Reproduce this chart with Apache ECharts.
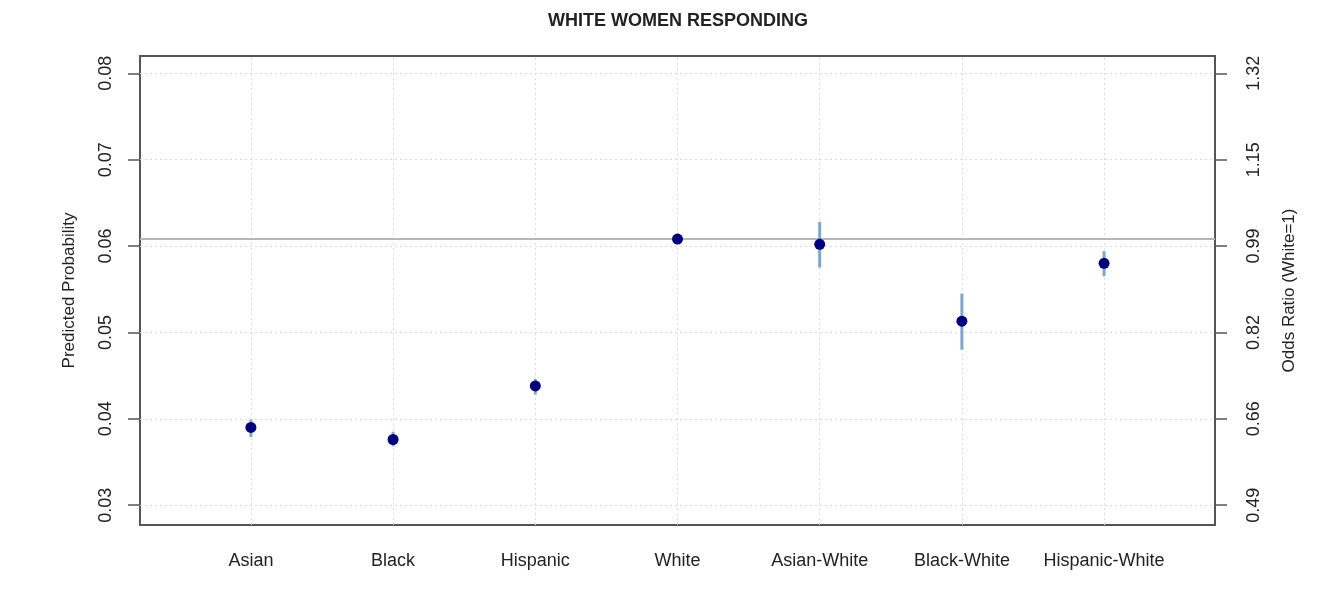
<!DOCTYPE html>
<html>
<head>
<meta charset="utf-8">
<script src="https://cdn.jsdelivr.net/npm/echarts@6/dist/echarts.min.js"></script>
<style>html,body{margin:0;padding:0;background:#fff}#c{width:1327px;height:597px}</style>
</head>
<body>
<div id="c"></div>
<script>
const title = 'WHITE WOMEN RESPONDING';
const categories = ['Asian', 'Black', 'Hispanic', 'White', 'Asian-White', 'Black-White', 'Hispanic-White'];
const prob  = [0.0390, 0.0376, 0.0438, 0.0608, 0.0602, 0.0513, 0.0580];
const lower = [0.0379, 0.0368, 0.0428, 0.0606, 0.0575, 0.0480, 0.0565];
const upper = [0.0399, 0.0385, 0.0446, 0.0610, 0.0628, 0.0545, 0.0594];
const refLine = 0.0608;
const leftTicks = [0.03, 0.04, 0.05, 0.06, 0.07, 0.08];
const rightTickLabels = ['0.49', '0.66', '0.82', '0.99', '1.15', '1.32'];
const leftName = 'Predicted Probability';
const rightName = 'Odds Ratio (White=1)';

const xPos = categories.map((c, i) => i + 1);
const font = 'Liberation Sans, Arial, sans-serif';
const gridLine = { color: '#dcdcdc', type: [2, 3], width: 1 };

const chart = echarts.init(document.getElementById('c'), null, { renderer: 'canvas' });
chart.setOption({
  animation: false,
  backgroundColor: '#fff',
  graphic: [{
    type: 'text', x: 678, y: 21,
    style: { text: title, font: 'bold 18px ' + font, fill: '#222', align: 'center', verticalAlign: 'middle' }
  }],
  grid: { left: 140, right: 112, top: 56, bottom: 72, show: true, borderColor: '#555', borderWidth: 2, backgroundColor: 'transparent' },
  xAxis: {
    type: 'value', min: 0.22, max: 7.78,
    axisLine: { show: false }, axisTick: { show: false }, splitLine: { show: false },
    axisLabel: {
      customValues: xPos, margin: 27, fontSize: 18, fontFamily: font, color: '#222',
      formatter: v => categories[Math.round(v) - 1] || ''
    }
  },
  yAxis: [{
    type: 'value', position: 'left', min: 0.0277, max: 0.0820,
    axisLine: { show: false }, splitLine: { show: false },
    axisTick: { show: true, customValues: leftTicks, length: 12, lineStyle: { color: '#555', width: 1.5 } },
    axisLabel: { customValues: leftTicks, rotate: 90, margin: 25, fontSize: 18, fontFamily: font, color: '#222', formatter: v => v.toFixed(2) },
    name: leftName, nameLocation: 'middle', nameGap: 62, nameRotate: 90,
    nameTextStyle: { fontSize: 17, fontFamily: font, color: '#222' }
  }, {
    type: 'value', position: 'right', min: 0.0277, max: 0.0820,
    axisLine: { show: false }, splitLine: { show: false },
    axisTick: { show: true, customValues: leftTicks, length: 12, lineStyle: { color: '#555', width: 1.5 } },
    axisLabel: {
      customValues: leftTicks, rotate: 90, margin: 30, fontSize: 18, fontFamily: font, color: '#222',
      formatter: v => { const i = leftTicks.findIndex(t => Math.abs(t - v) < 1e-9); return i >= 0 ? rightTickLabels[i] : ''; }
    },
    name: rightName, nameLocation: 'middle', nameGap: 66, nameRotate: 90,
    nameTextStyle: { fontSize: 17, fontFamily: font, color: '#222' }
  }],
  series: [{
    type: 'custom',
    name: 'ci',
    z: 3,
    data: categories.map((c, i) => [xPos[i], lower[i], upper[i]]),
    renderItem: (params, api) => {
      const p1 = api.coord([api.value(0), api.value(1)]);
      const p2 = api.coord([api.value(0), api.value(2)]);
      return { type: 'line', shape: { x1: p1[0], y1: p1[1], x2: p2[0], y2: p2[1] }, style: { stroke: '#7fa6c6', lineWidth: 3 } };
    },
    markLine: {
      silent: true, symbol: 'none', label: { show: false }, z: 1, precision: 5,
      data: [
        ...leftTicks.map(t => ({ yAxis: t, lineStyle: gridLine })),
        ...xPos.map(x => ({ xAxis: x, lineStyle: gridLine })),
        { yAxis: refLine, lineStyle: { color: '#b5b5b5', width: 2, type: 'solid' } }
      ]
    }
  }, {
    type: 'scatter',
    z: 4,
    symbol: 'circle', symbolSize: 11,
    itemStyle: { color: '#00007a', opacity: 1 },
    data: categories.map((c, i) => [xPos[i], prob[i]])
  }]
});
</script>
</body>
</html>
